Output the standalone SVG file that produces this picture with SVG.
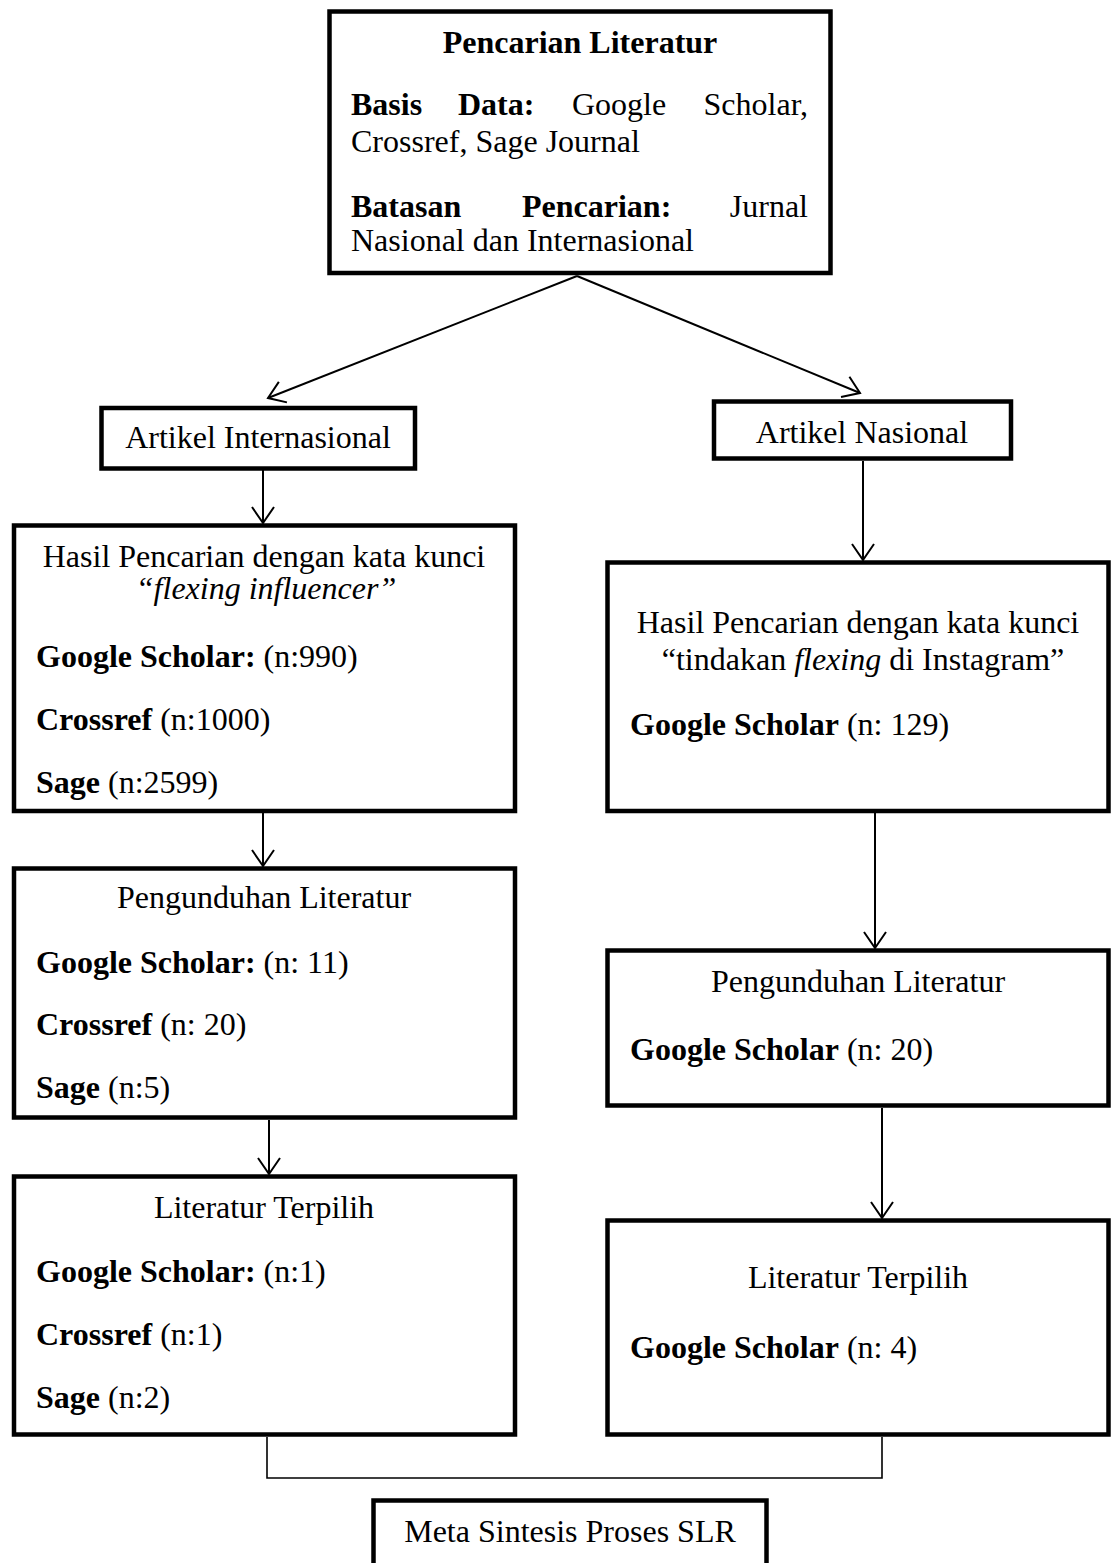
<svg xmlns="http://www.w3.org/2000/svg" width="1111" height="1563" viewBox="0 0 1111 1563">
<style>
  text { font-family: "Liberation Serif", "Times New Roman", serif; font-size: 32px; fill: #000; }
  .b { font-weight: bold; }
  .i { font-style: italic; }
  .c { text-anchor: middle; }
  .e { text-anchor: end; }
  .box { fill: #fff; stroke: #000; stroke-width: 4.5; }
  .arr { fill: none; stroke: #000; stroke-width: 2; marker-end: url(#ah); }
  .join { fill: none; stroke: #000; stroke-width: 1.6; }
</style>
<defs>
  <marker id="ah" markerUnits="userSpaceOnUse" markerWidth="24" markerHeight="26" viewBox="-18 -13 20 26" refX="0" refY="0" orient="auto">
    <path d="M -16 -11 L 0 0 L -16 11" fill="none" stroke="#000" stroke-width="2"/>
  </marker>
</defs>
<rect width="1111" height="1563" fill="#fff"/>

<g id="connectors">
  <line class="arr" x1="577" y1="276" x2="268" y2="398"/>
  <line class="arr" x1="577" y1="276" x2="860" y2="393"/>
  <line class="arr" x1="263" y1="470" x2="263" y2="523"/>
  <line class="arr" x1="863" y1="461" x2="863" y2="560"/>
  <line class="arr" x1="263" y1="813" x2="263" y2="866"/>
  <line class="arr" x1="875" y1="813" x2="875" y2="948"/>
  <line class="arr" x1="269" y1="1120" x2="269" y2="1174"/>
  <line class="arr" x1="882" y1="1108" x2="882" y2="1218"/>
  <polyline class="join" points="267,1437 267,1478 882,1478 882,1437"/>
</g>

<g id="pencarian">
  <rect class="box" x="329.5" y="11.5" width="501" height="261.5"/>
  <text class="b c" x="580" y="53">Pencarian Literatur</text>
  <text class="b" x="351" y="115">Basis</text>
  <text class="b" x="458" y="115">Data:</text>
  <text x="572" y="115">Google</text>
  <text class="e" x="808" y="115">Scholar,</text>
  <text x="351" y="152">Crossref, Sage Journal</text>
  <text class="b" x="351" y="217">Batasan</text>
  <text class="b" x="522" y="217">Pencarian:</text>
  <text class="e" x="808" y="217">Jurnal</text>
  <text x="351" y="251">Nasional dan Internasional</text>
</g>

<g id="artikel-internasional">
  <rect class="box" x="101.5" y="408" width="313.5" height="60.5"/>
  <text class="c" x="258" y="448">Artikel Internasional</text>
</g>

<g id="artikel-nasional">
  <rect class="box" x="714" y="401.5" width="297" height="57"/>
  <text class="c" x="862" y="443">Artikel Nasional</text>
</g>

<g id="hasil-internasional">
  <rect class="box" x="14" y="525.5" width="501" height="285.5"/>
  <text class="c" x="264" y="567">Hasil Pencarian dengan kata kunci</text>
  <text class="c i" x="266" y="599">“flexing influencer”</text>
  <text x="36" y="667"><tspan class="b">Google Scholar:</tspan> (n:990)</text>
  <text x="36" y="730"><tspan class="b">Crossref</tspan> (n:1000)</text>
  <text x="36" y="793"><tspan class="b">Sage</tspan> (n:2599)</text>
</g>

<g id="hasil-nasional">
  <rect class="box" x="607.5" y="562.5" width="501" height="248.5"/>
  <text class="c" x="858" y="633">Hasil Pencarian dengan kata kunci</text>
  <text class="c" x="863" y="670">“tindakan <tspan class="i">flexing</tspan> di Instagram”</text>
  <text x="630" y="735"><tspan class="b">Google Scholar</tspan> (n: 129)</text>
</g>

<g id="pengunduhan-internasional">
  <rect class="box" x="14" y="868.5" width="501" height="249"/>
  <text class="c" x="264" y="908">Pengunduhan Literatur</text>
  <text x="36" y="973"><tspan class="b">Google Scholar:</tspan> (n: 11)</text>
  <text x="36" y="1035"><tspan class="b">Crossref</tspan> (n: 20)</text>
  <text x="36" y="1098"><tspan class="b">Sage</tspan> (n:5)</text>
</g>

<g id="pengunduhan-nasional">
  <rect class="box" x="607.5" y="950.5" width="501" height="155"/>
  <text class="c" x="858" y="992">Pengunduhan Literatur</text>
  <text x="630" y="1060"><tspan class="b">Google Scholar</tspan> (n: 20)</text>
</g>

<g id="terpilih-internasional">
  <rect class="box" x="14" y="1176.5" width="501" height="258"/>
  <text class="c" x="264" y="1218">Literatur Terpilih</text>
  <text x="36" y="1282"><tspan class="b">Google Scholar:</tspan> (n:1)</text>
  <text x="36" y="1345"><tspan class="b">Crossref</tspan> (n:1)</text>
  <text x="36" y="1408"><tspan class="b">Sage</tspan> (n:2)</text>
</g>

<g id="terpilih-nasional">
  <rect class="box" x="607.5" y="1220.5" width="501" height="214"/>
  <text class="c" x="858" y="1288">Literatur Terpilih</text>
  <text x="630" y="1358"><tspan class="b">Google Scholar</tspan> (n: 4)</text>
</g>

<g id="meta-sintesis">
  <rect class="box" x="373.5" y="1500.5" width="393" height="90"/>
  <text class="c" x="570" y="1542">Meta Sintesis Proses SLR</text>
</g>
</svg>
